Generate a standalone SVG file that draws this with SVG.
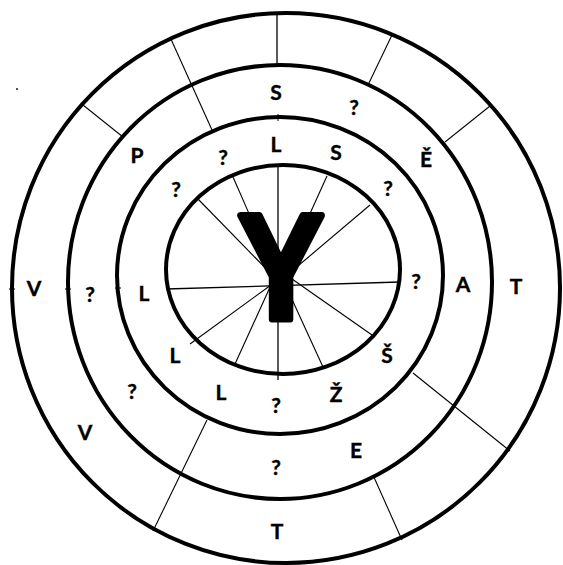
<svg xmlns="http://www.w3.org/2000/svg" width="563" height="565" viewBox="0 0 563 565">
<style>
.ring{fill:none;stroke:#000;stroke-width:4}
.sp{stroke:#000;stroke-width:1.1;fill:none}
.tk{stroke:#000;stroke-width:1;fill:none}
.spi{stroke:#000;stroke-width:1.3;fill:none}
.lbl{font-family:Lato,"Liberation Sans",Arial,sans-serif;font-weight:bold;font-size:21px;fill:#000;stroke:#000;stroke-width:0.4;text-anchor:middle}
.big{font-family:"Liberation Sans",Arial,sans-serif;font-weight:bold;font-size:150px;fill:#000;stroke:#000;stroke-width:7;stroke-linejoin:round;text-anchor:middle}
</style>
<rect width="563" height="565" fill="#fff"/>
<rect x="16" y="88" width="2" height="2" fill="#555"/>
<g id="connectors">
  <line class="spi" x1="277" y1="13" x2="277" y2="66"/>
  <line class="sp" x1="170" y1="37" x2="212" y2="130"/>
  <line class="sp" x1="392" y1="35" x2="368" y2="85"/>
  <line class="sp" x1="83" y1="105" x2="123" y2="137"/>
  <line class="sp" x1="490" y1="106" x2="445" y2="142"/>
  <line class="sp" x1="413" y1="373" x2="510" y2="451"/>
  <line class="sp" x1="207" y1="420" x2="153" y2="531"/>
  <line class="sp" x1="373" y1="475" x2="402" y2="540"/>
  <line class="tk" x1="9" y1="289" x2="15" y2="289"/>
  <line class="tk" x1="65" y1="289" x2="71" y2="289"/>
  <line class="tk" x1="115" y1="288" x2="121" y2="288"/>
  <line class="tk" x1="278" y1="114" x2="278" y2="121"/>
  <line class="spi" x1="166" y1="289" x2="400" y2="282"/>
  <line class="spi" x1="278" y1="165" x2="278" y2="380"/>
  <line class="sp" x1="233" y1="177" x2="279" y2="282"/>
  <line class="sp" x1="327" y1="176" x2="279" y2="282"/>
  <line class="sp" x1="197" y1="198" x2="279" y2="282"/>
  <line class="sp" x1="370" y1="205" x2="279" y2="282"/>
  <line class="sp" x1="190" y1="344" x2="271" y2="285"/>
  <line class="sp" x1="372" y1="335" x2="292" y2="279"/>
  <line class="sp" x1="235" y1="364" x2="271" y2="285"/>
  <line class="sp" x1="323" y1="367" x2="290" y2="295"/>
</g>
<g id="rings">
  <ellipse id="ring-outer" class="ring" cx="286" cy="288" rx="274" ry="275"/>
  <ellipse id="ring-2" class="ring" cx="280" cy="282" rx="212" ry="217"/>
  <ellipse id="ring-3" class="ring" cx="280" cy="275.5" rx="163" ry="158.5"/>
  <ellipse id="ring-inner" class="ring" cx="283" cy="269.5" rx="117" ry="104.5"/>
</g>
<g id="center">
  <text class="big" transform="translate(281,319) scale(0.86,1)">Y</text>
</g>
<g id="outer-labels">
  <text class="lbl" x="34" y="296">V</text>
  <text class="lbl" x="516" y="294">T</text>
  <text class="lbl" x="277" y="539">T</text>
  <text class="lbl" x="85" y="440">V</text>
</g>
<g id="ring2-labels">
  <text class="lbl" x="276" y="100">S</text>
  <text class="lbl" x="354" y="115">?</text>
  <text class="lbl" x="426" y="167">Ě</text>
  <text class="lbl" x="463" y="292">A</text>
  <text class="lbl" x="90" y="302">?</text>
  <text class="lbl" x="137" y="163">P</text>
  <text class="lbl" x="132" y="399">?</text>
  <text class="lbl" x="356" y="458">E</text>
  <text class="lbl" x="276" y="475">?</text>
</g>
<g id="ring3-labels">
  <text class="lbl" x="276" y="152">L</text>
  <text class="lbl" x="336" y="160">S</text>
  <text class="lbl" x="388" y="196">?</text>
  <text class="lbl" x="416" y="289">?</text>
  <text class="lbl" x="387" y="363">Š</text>
  <text class="lbl" x="336" y="402">Ž</text>
  <text class="lbl" x="276" y="413">?</text>
  <text class="lbl" x="221" y="400">L</text>
  <text class="lbl" x="175" y="363">L</text>
  <text class="lbl" x="144" y="301">L</text>
  <text class="lbl" x="176" y="197">?</text>
  <text class="lbl" x="223" y="165">?</text>
</g>
</svg>
